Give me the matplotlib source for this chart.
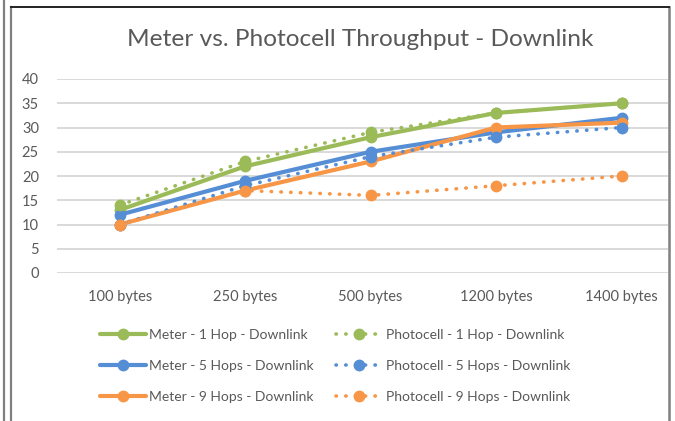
import matplotlib.pyplot as plt
from matplotlib.lines import Line2D

# Data
categories = ['100 bytes', '250 bytes', '500 bytes', '1200 bytes', '1400 bytes']
meter_1hop = [13, 22, 28, 33, 35]
meter_5hops = [12, 19, 25, 29, 32]
meter_9hops = [10, 17, 23, 30, 31]
photo_1hop = [14, 23, 29, 33, 35]
photo_5hops = [10, 18, 24, 28, 30]
photo_9hops = [10, 17, 16, 18, 20]

green = '#9BBB59'
blue = '#558ED5'
orange = '#F79646'
text_col = '#595959'

plt.rcParams['font.family'] = ['Lato', 'DejaVu Sans']

fig = plt.figure(figsize=(6.75, 4.21), dpi=100)
ax = fig.add_axes([57 / 675, 1 - 273 / 421, 611 / 675, 194 / 421])

x = list(range(len(categories)))
dot = (0, (0.1, 2.6))

series = [
    (meter_1hop, green, '-', 'Meter - 1 Hop - Downlink'),
    (meter_5hops, blue, '-', 'Meter - 5 Hops - Downlink'),
    (meter_9hops, orange, '-', 'Meter - 9 Hops - Downlink'),
    (photo_1hop, green, dot, 'Photocell - 1 Hop - Downlink'),
    (photo_5hops, blue, dot, 'Photocell - 5 Hops - Downlink'),
    (photo_9hops, orange, dot, 'Photocell - 9 Hops - Downlink'),
]

handles = []
for vals, col, ls, lab in series:
    lw = 3.0 if ls == '-' else 2.6
    line, = ax.plot(x, vals, color=col, linestyle=ls, linewidth=lw,
                    marker='o', markersize=7.5, solid_capstyle='round',
                    dash_capstyle='round', label=lab, clip_on=False)
    handles.append(line)

ax.set_xlim(-0.5, 4.37)
ax.set_ylim(0, 40)
ax.set_yticks(range(0, 41, 5))
ax.set_xticks(x)
ax.set_xticklabels(categories)
ax.grid(axis='y', color='#D9D9D9', linewidth=1.4)
ax.set_axisbelow(True)
for s in ax.spines.values():
    s.set_visible(False)
ax.tick_params(axis='both', length=0, labelsize=10.5, colors=text_col)
ax.tick_params(axis='y', pad=13)
ax.tick_params(axis='x', pad=12)

fig.text(360 / 675, 1 - 40 / 421, 'Meter vs. Photocell Throughput - Downlink',
         ha='center', va='center', fontsize=17.6, color=text_col)

fig.legend(handles=handles, ncol=2, loc='center', bbox_to_anchor=(335 / 675, 1 - 366 / 421),
           frameon=False, fontsize=10, labelcolor=text_col, handlelength=3.3,
           handletextpad=0.25, columnspacing=1.6, labelspacing=1.35)

# chart frame lines from the screenshot
gray = '#808080'
W, H = 675, 421
fig.add_artist(Line2D([4 / W, 4 / W], [0, 1], color=gray, linewidth=1.6))
fig.add_artist(Line2D([11 / W, 11 / W], [0, 1 - 7 / H], color=gray, linewidth=1.6))
fig.add_artist(Line2D([669 / W, 669 / W], [0, 1 - 7 / H], color=gray, linewidth=1.8))
fig.add_artist(Line2D([11 / W, 669 / W], [1 - 7 / H, 1 - 7 / H], color='#222222', linewidth=1.4))

fig.savefig('out.png', dpi=100)
